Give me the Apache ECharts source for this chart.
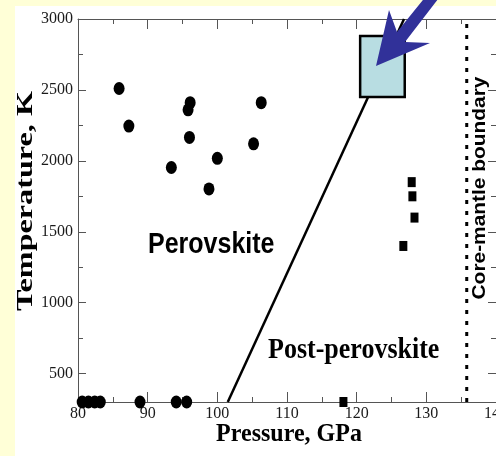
<!DOCTYPE html>
<html><head><meta charset="utf-8">
<script src="https://cdn.jsdelivr.net/npm/echarts@6/dist/echarts.min.js"></script>
<style>html,body{margin:0;padding:0;background:#ffffd7}#c{width:496px;height:456px}</style>
</head><body><div id="c"></div>
<script>
// ---- data ----
const xTickLabels = [80, 90, 100, 110, 120, 130, 140];
const yTickLabels = [500, 1000, 1500, 2000, 2500, 3000];
const yMinorTicks = [750, 1250, 1750, 2250, 2750];
const perovskiteP = [85.9, 87.3, 96.1, 95.8, 96.0, 105.2, 106.3, 100.0, 93.4, 98.8, 80.6, 81.5, 82.4, 83.2, 88.9, 94.1, 95.6];
const perovskiteT = [2510, 2245, 2410, 2360, 2165, 2120, 2410, 2018, 1953, 1802, 300, 300, 300, 300, 300, 300, 300];
const postP = [127.9, 128.0, 128.3, 126.7, 118.1];
const postT = [1850, 1750, 1600, 1400, 300];
const boundaryP = [101.5, 126.8];
const boundaryT = [300, 3000];
const boxP = [120.5, 126.9];
const boxT = [2450, 2880];
const cmbP = [135.8, 135.8];
const cmbT = [300, 3000];

const SERIF = 'Liberation Serif';
const SANS = 'Liberation Sans';
const axisColor = '#555';
const plain = v => String(v);

function xAxisDef(pos, labels) {
  return {
    type: 'value', position: pos, min: 80, max: 140, interval: 10,
    axisLine: { show: true, onZero: false, lineStyle: { color: axisColor, width: 1 } },
    axisTick: { show: true, inside: true, length: 10, lineStyle: { color: axisColor } },
    minorTick: { show: true, splitNumber: 2, length: 5, lineStyle: { color: axisColor } },
    axisLabel: { show: labels, fontFamily: SERIF, fontSize: 16, color: '#1a1a1a', margin: 4, showMaxLabel: true, showMinLabel: true,
      customValues: xTickLabels, formatter: plain, hideOverlap: false },
    splitLine: { show: false }, minorSplitLine: { show: false }
  };
}
function yAxisDef(pos, ticks, len, labels, line) {
  return {
    type: 'value', position: pos, min: 300, max: 3000,
    axisLine: { show: line, onZero: false, lineStyle: { color: axisColor, width: 1 } },
    axisTick: { show: true, inside: true, length: len, customValues: ticks, lineStyle: { color: axisColor } },
    axisLabel: { show: labels, fontFamily: SERIF, fontSize: 16, color: '#1a1a1a', margin: 5, customValues: yTickLabels, formatter: plain },
    splitLine: { show: false }
  };
}

const chart = echarts.init(document.getElementById('c'), null, { renderer: 'canvas' });
chart.setOption({
  backgroundColor: '#ffffd7',
  animation: false,
  grid: { left: 78, right: 0, top: 19, bottom: 54, containLabel: false, outerBoundsMode: 'none' },
  xAxis: [xAxisDef('bottom', true), xAxisDef('top', false)],
  yAxis: [
    yAxisDef('left', yTickLabels, 8, true, true),
    yAxisDef('left', yMinorTicks, 5, false, false),
    yAxisDef('right', yTickLabels, 8, false, true),
    yAxisDef('right', yMinorTicks, 5, false, false)
  ],
  graphic: [
    { type: 'rect', z: -100, silent: true, shape: { x: 15, y: 6, width: 490, height: 460 }, style: { fill: '#ffffff' } },
    { type: 'text', z: 50, x: 148, y: 245, scaleY: 1.2,
      style: { text: 'Perovskite', x: 0, y: 0, font: 'bold 25px ' + SANS, fill: '#000', align: 'left', verticalAlign: 'middle' } },
    { type: 'text', z: 50, x: 268, y: 350, scaleY: 1.17,
      style: { text: 'Post-perovskite', x: 0, y: 0, font: 'bold 26px ' + SERIF, fill: '#000', align: 'left', verticalAlign: 'middle' } },
    { type: 'text', z: 50, x: 480, y: 188, rotation: Math.PI / 2, scaleX: 1.1,
      style: { text: 'Core-mantle boundary', x: 0, y: 0, font: 'bold 19px ' + SANS, fill: '#000', align: 'center', verticalAlign: 'middle' } },
    { type: 'text', z: 50, x: 289, y: 434, scaleY: 1.08,
      style: { text: 'Pressure, GPa', x: 0, y: 0, font: 'bold 24px ' + SERIF, fill: '#000', align: 'center', verticalAlign: 'middle' } },
    { type: 'text', z: 50, x: 26, y: 201, rotation: Math.PI / 2, scaleX: 1.4,
      style: { text: 'Temperature, K', x: 0, y: 0, font: 'bold 23px ' + SERIF, fill: '#000', align: 'center', verticalAlign: 'middle' } },
    { type: 'polygon', z: 100,
      shape: { points: [[376, 66], [389, 10], [397, 32], [431, -10], [445, -10], [405, 42], [430, 43]] },
      style: { fill: '#313199' } }
  ],
  series: [
    { type: 'line', xAxisIndex: 0, yAxisIndex: 0, z: 2, symbol: 'none', clip: false,
      data: boundaryP.map((p, i) => [p, boundaryT[i]]),
      lineStyle: { color: '#000', width: 2.5 } },
    { type: 'line', xAxisIndex: 0, yAxisIndex: 0, z: 2, symbol: 'none', clip: false,
      data: cmbP.map((p, i) => [p, cmbT[i]]),
      lineStyle: { color: '#000', width: 3, type: [4, 7] } },
    { type: 'custom', xAxisIndex: 0, yAxisIndex: 0, z: 3, clip: false,
      data: [[boxP[0], boxT[0], boxP[1], boxT[1]]],
      encode: { x: [0, 2], y: [1, 3] },
      renderItem: function (params, api) {
        const a = api.coord([api.value(0), api.value(3)]);
        const b = api.coord([api.value(2), api.value(1)]);
        return { type: 'rect', shape: { x: a[0], y: a[1], width: b[0] - a[0], height: b[1] - a[1] },
          style: { fill: '#b8dde2', stroke: '#000', lineWidth: 2.5 } };
      } },
    { type: 'scatter', xAxisIndex: 0, yAxisIndex: 0, z: 4, clip: false,
      symbol: 'circle', symbolSize: [11, 13],
      itemStyle: { color: '#000', opacity: 1 },
      data: perovskiteP.map((p, i) => [p, perovskiteT[i]]) },
    { type: 'scatter', xAxisIndex: 0, yAxisIndex: 0, z: 4, clip: false,
      symbol: 'rect', symbolSize: [8, 10],
      itemStyle: { color: '#000', opacity: 1 },
      data: postP.map((p, i) => [p, postT[i]]) }
  ]
});
</script>
</body></html>
